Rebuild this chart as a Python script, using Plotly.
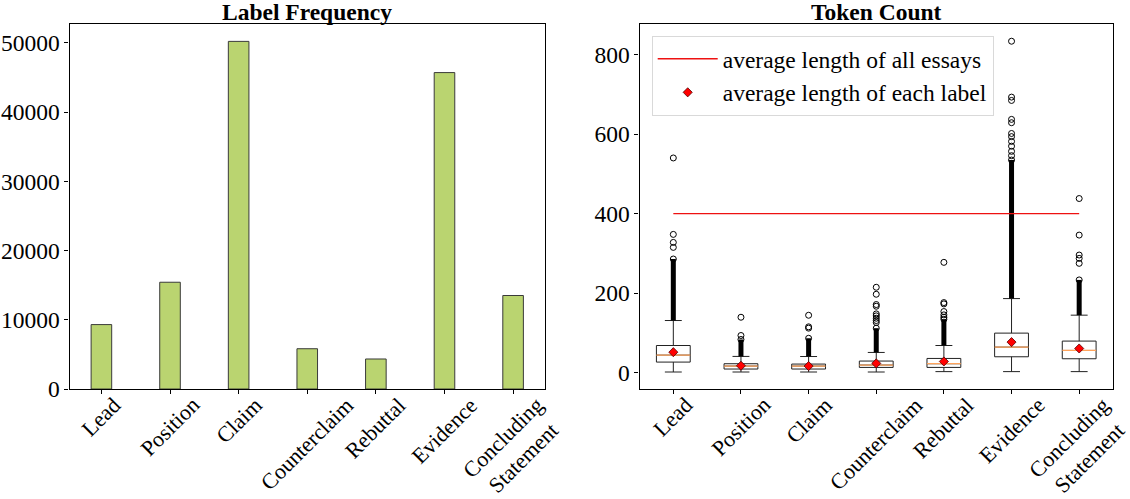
import plotly.graph_objects as go
from plotly.subplots import make_subplots

# ---------------- data ----------------
labels = ["Lead", "Position", "Claim", "Counterclaim", "Rebuttal", "Evidence", "Concluding<br>Statement"]
label_counts = [9305, 15419, 50208, 5817, 4334, 45702, 13505]
freq_ticks = [0, 10000, 20000, 30000, 40000, 50000]
token_ticks = [0, 200, 400, 600, 800]

# box statistics of token counts per label
q1 = [26, 8.5, 8.5, 12.6, 12.6, 39.4, 34.4]
median = [43.6, 16, 16, 18.6, 21.9, 63.8, 55.3]
q3 = [67.8, 21.9, 21, 28.6, 35.2, 99, 78.9]
lower_whisker = [1, 1, 1, 1, 2, 2, 2]
upper_whisker = [130.7, 40.3, 40, 50.3, 67.8, 186, 144.2]
mean_len = [51, 16.8, 16, 22.7, 27.6, 76.4, 60.3]
avg_essay_len = 400

# individually visible outliers per label
sparse_outliers = [
    [315, 327.5, 347.7, 540.3],
    [93, 139],
    [111.5, 114.8, 144],
    [125.7, 130.7, 136.5, 142.4, 147.4, 166.7, 171, 196.9, 214.5],
    [139, 145, 153.3, 172.6, 175.9, 277.3],
    [546, 557, 570, 582, 594, 602, 629.1, 637.5, 685.2, 693.6, 834.4],
    [274.8, 287.3, 295.7, 346, 438.1],
]
# continuous (overlapping) outlier bands: [low, high]
dense_outliers = [
    [130.7, 285.7],
    [40.3, 83],
    [40, 86],
    [50.3, 111.4],
    [67.8, 134],
    [186, 535],
    [144.2, 233],
]

# ---------------- style ----------------
FONT = "Liberation Serif, Times New Roman, serif"
FS = 23.5
XFS = 22
BOX_W = 0.5
W, H = 1130, 499
PLOT_BOTTOM = 389
PLOT_TOP = 24

fig = make_subplots(rows=1, cols=2)
pos = list(range(len(labels)))

fig.add_trace(go.Bar(x=pos, y=label_counts, width=0.3,
                     marker=dict(color="#bad470", line=dict(color="#3a3a3a", width=1)),
                     showlegend=False), row=1, col=1)

fig.add_trace(go.Box(x=pos, q1=q1, median=median, q3=q3,
                     lowerfence=lower_whisker, upperfence=upper_whisker,
                     width=BOX_W, whiskerwidth=0.5, boxpoints=False,
                     fillcolor="rgba(0,0,0,0)", line=dict(color="#222", width=1),
                     showlegend=False, hoverinfo="skip"), row=1, col=2)

# orange median lines
mx, my = [], []
for i, m in zip(pos, median):
    mx += [i - BOX_W / 2, i + BOX_W / 2, None]
    my += [m, m, None]
fig.add_trace(go.Scatter(x=mx, y=my, mode="lines", line=dict(color="#ffa45c", width=1.2),
                         showlegend=False, hoverinfo="skip"), row=1, col=2)

# dense outlier bands
bx, by = [], []
for i, (lo, hi) in zip(pos, dense_outliers):
    bx += [i, i, None]
    by += [lo, hi, None]
fig.add_trace(go.Scatter(x=bx, y=by, mode="lines", line=dict(color="black", width=5),
                         showlegend=False, hoverinfo="skip"), row=1, col=2)

# sparse outliers
ox, oy = [], []
for i, vals in zip(pos, sparse_outliers):
    for v in vals:
        ox.append(i)
        oy.append(v)
for i, (lo, hi) in zip(pos, dense_outliers):
    ox.append(i)
    oy.append(hi)
fig.add_trace(go.Scatter(x=ox, y=oy, mode="markers",
                         marker=dict(symbol="circle-open", size=6, color="black", line=dict(width=1)),
                         showlegend=False, hoverinfo="skip"), row=1, col=2)

# average line
fig.add_trace(go.Scatter(x=[pos[0], pos[-1]], y=[avg_essay_len, avg_essay_len], mode="lines",
                         line=dict(color="#ee1111", width=1.4),
                         name="average length of all essays"), row=1, col=2)

# means
fig.add_trace(go.Scatter(x=pos, y=mean_len, mode="markers",
                         marker=dict(symbol="diamond", size=7, color="#ff0000",
                                     line=dict(color="#550000", width=0.8)),
                         name="average length of each label"), row=1, col=2)

axis_common = dict(showline=True, linecolor="black", linewidth=1.2, mirror=True,
                   ticks="outside", ticklen=4, tickcolor="black", showgrid=False, zeroline=False,
                   automargin=False,
                   tickfont=dict(family=FONT, size=FS, color="black"))

fig.update_xaxes(axis_common)
fig.update_yaxes(axis_common)

fig.update_xaxes(domain=[69.5 / W, 545 / W], range=[-0.465, 6.465], tickvals=pos,
                 showticklabels=False, row=1, col=1)
fig.update_xaxes(domain=[639.5 / W, 1113 / W], range=[-0.5, 6.5], tickvals=pos,
                 showticklabels=False, row=1, col=2)
fig.update_yaxes(domain=[1 - PLOT_BOTTOM / H, 1 - PLOT_TOP / H], range=[0, 52718],
                 tickvals=freq_ticks, ticktext=[str(t) for t in freq_ticks], row=1, col=1)
fig.update_yaxes(domain=[1 - PLOT_BOTTOM / H, 1 - PLOT_TOP / H], range=[-41.8, 877.8],
                 tickvals=token_ticks, ticktext=[str(t) for t in token_ticks], row=1, col=2)

annotations = [
    dict(text="<b>Label Frequency</b>", x=(69.5 + 545) / 2 / W, y=1 - 12 / H,
         xref="paper", yref="paper", xanchor="center", yanchor="middle",
         showarrow=False, font=dict(family=FONT, size=FS, color="black")),
    dict(text="<b>Token Count</b>", x=(639.5 + 1113) / 2 / W, y=1 - 12 / H,
         xref="paper", yref="paper", xanchor="center", yanchor="middle",
         showarrow=False, font=dict(family=FONT, size=FS, color="black")),
]
# rotated category labels, centred under each tick (matplotlib style)
for xref in ["x", "x2"]:
    for i, lab in zip(pos, labels):
        annotations.append(dict(text=lab, x=i, xref=xref, y=1 - (PLOT_BOTTOM + 2) / H, yref="paper",
                                xanchor="center", yanchor="top", textangle=-45, align="center",
                                showarrow=False, borderpad=0,
                                font=dict(family=FONT, size=XFS, color="black")))

fig.update_layout(
    width=W, height=H,
    margin=dict(l=0, r=0, t=0, b=0),
    plot_bgcolor="white", paper_bgcolor="white",
    font=dict(family=FONT, size=FS, color="black"),
    legend=dict(x=651.7 / W, y=1 - 36 / H, xanchor="left", yanchor="top",
                bgcolor="white", bordercolor="#d9d9d9", borderwidth=1,
                font=dict(family=FONT, size=FS, color="black"), itemwidth=60),
    annotations=annotations,
)

fig.write_html("out.html", config={"displayModeBar": False},
               post_script="document.body.style.margin='0';document.body.style.overflow='hidden';")
